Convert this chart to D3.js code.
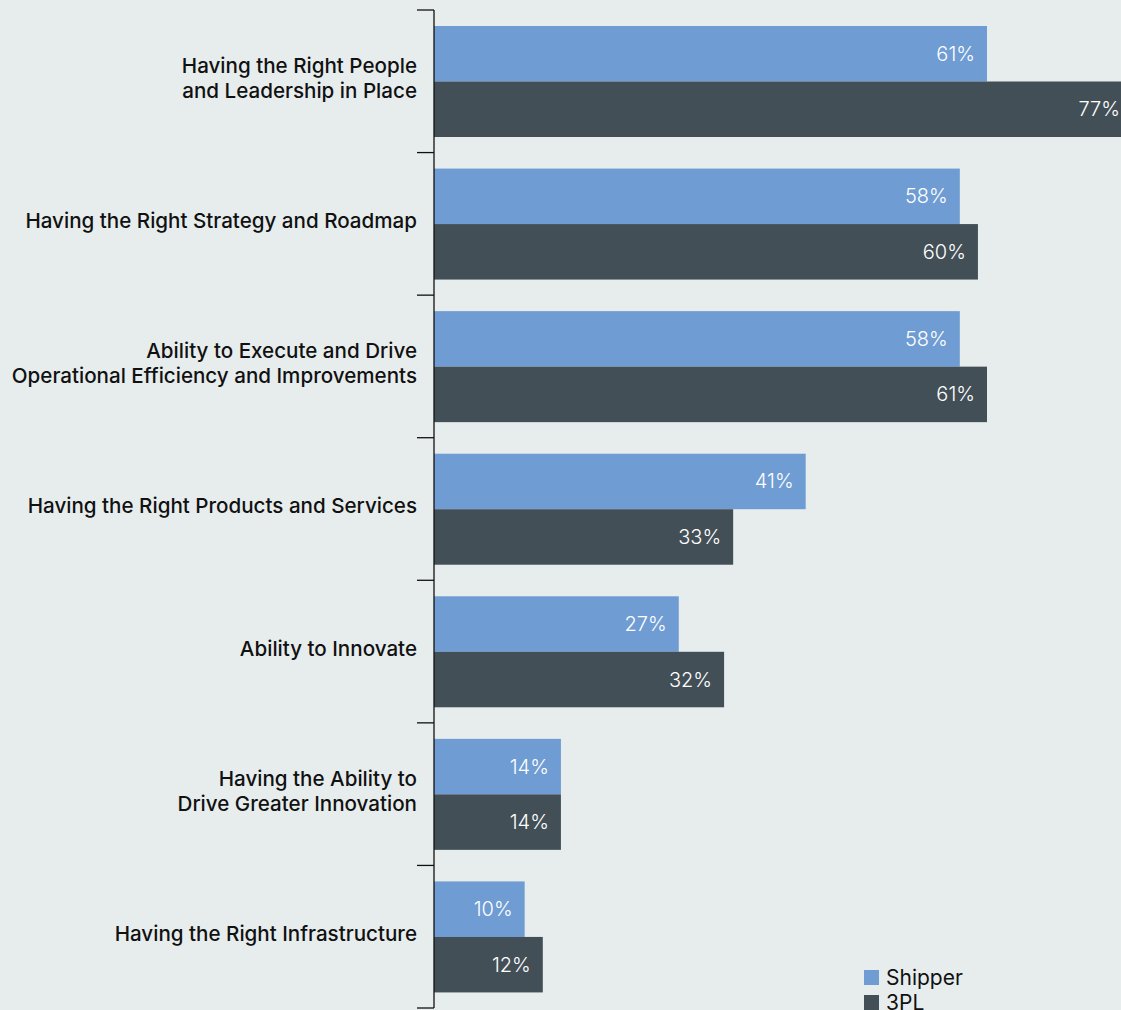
<!DOCTYPE html>
<html><head><meta charset="utf-8">
<script src="https://cdn.jsdelivr.net/npm/d3@7"></script>
<style>
html,body{margin:0;padding:0;background:#e7eded;}
svg{display:block;}
</style></head>
<body>
<svg id="chart" width="1121" height="1010"></svg>
<script>
const categories = [
  ["Having the Right People","and Leadership in Place"],
  ["Having the Right Strategy and Roadmap"],
  ["Ability to Execute and Drive","Operational Efficiency and Improvements"],
  ["Having the Right Products and Services"],
  ["Ability to Innovate"],
  ["Having the Ability to","Drive Greater Innovation"],
  ["Having the Right Infrastructure"]
];
const shipper = [61, 58, 58, 41, 27, 14, 10];
const tpl = [77, 60, 61, 33, 32, 14, 12];
const seriesNames = ["Shipper", "3PL"];
const colors = ["#6e9cd3", "#434f57"];

const svg = d3.select("#chart");
const W = 1121, H = 1010;
svg.append("rect").attr("width", W).attr("height", H).attr("fill", "#e7eded");

const x0 = 434;
const x = d3.scaleLinear().domain([0, 61]).range([x0, 987]);
const y = d3.scaleBand().domain(d3.range(categories.length)).range([10, 1008]).padding(0);
const barH = 55.5, offset = 16;

const data = categories.map((c, i) => ({i, c, vals: [shipper[i], tpl[i]]}));

const g = svg.append("g");
data.forEach(d => {
  d.vals.forEach((v, s) => {
    const yy = y(d.i) + offset + s * barH;
    g.append("rect")
      .attr("x", x(0)).attr("y", yy)
      .attr("width", x(v) - x(0)).attr("height", barH)
      .attr("fill", colors[s]);
    g.append("text")
      .attr("x", x(v) - 12).attr("y", yy + barH / 2)
      .attr("dy", "0.35em").attr("text-anchor", "end")
      .attr("fill", "#ffffff")
      .attr("font-family", "Inter, Roboto, sans-serif")
      .attr("font-weight", 300)
      .attr("font-size", 20)
      .text(v + "%");
  });
});

// axis
const axis = svg.append("g");
axis.append("line").attr("x1", x0).attr("x2", x0).attr("y1", 10).attr("y2", 1008)
  .attr("stroke", "#111").attr("stroke-width", 1.3);
const bounds = d3.range(categories.length + 1).map(i => i < categories.length ? y(i) : y(categories.length - 1) + y.bandwidth());
bounds.forEach(b => {
  axis.append("line").attr("x1", 417).attr("x2", x0).attr("y1", b).attr("y2", b)
    .attr("stroke", "#111").attr("stroke-width", 1.3);
});

// category labels
data.forEach(d => {
  const cy = y(d.i) + y.bandwidth() / 2 - 3;
  const lh = 25;
  const n = d.c.length;
  const t = svg.append("text")
    .attr("text-anchor", "end")
    .attr("font-family", "Inter, Roboto, sans-serif")
    .attr("font-weight", 500)
    .attr("font-size", 20.6)
    .attr("fill", "#111");
  d.c.forEach((line, k) => {
    t.append("tspan").attr("x", 417)
      .attr("y", cy + (k - (n - 1) / 2) * lh)
      .attr("dy", "0.35em")
      .text(line);
  });
});

// legend
const leg = svg.append("g");
seriesNames.forEach((s, i) => {
  const ly = 970 + i * 25;
  leg.append("rect").attr("x", 864).attr("y", ly).attr("width", 15).attr("height", 15).attr("fill", colors[i]);
  leg.append("text").attr("x", 886).attr("y", ly + 14.5)
    .attr("font-family", "Inter, Roboto, sans-serif")
    .attr("font-size", 21).attr("fill", "#111").text(s);
});
</script>
</body></html>
